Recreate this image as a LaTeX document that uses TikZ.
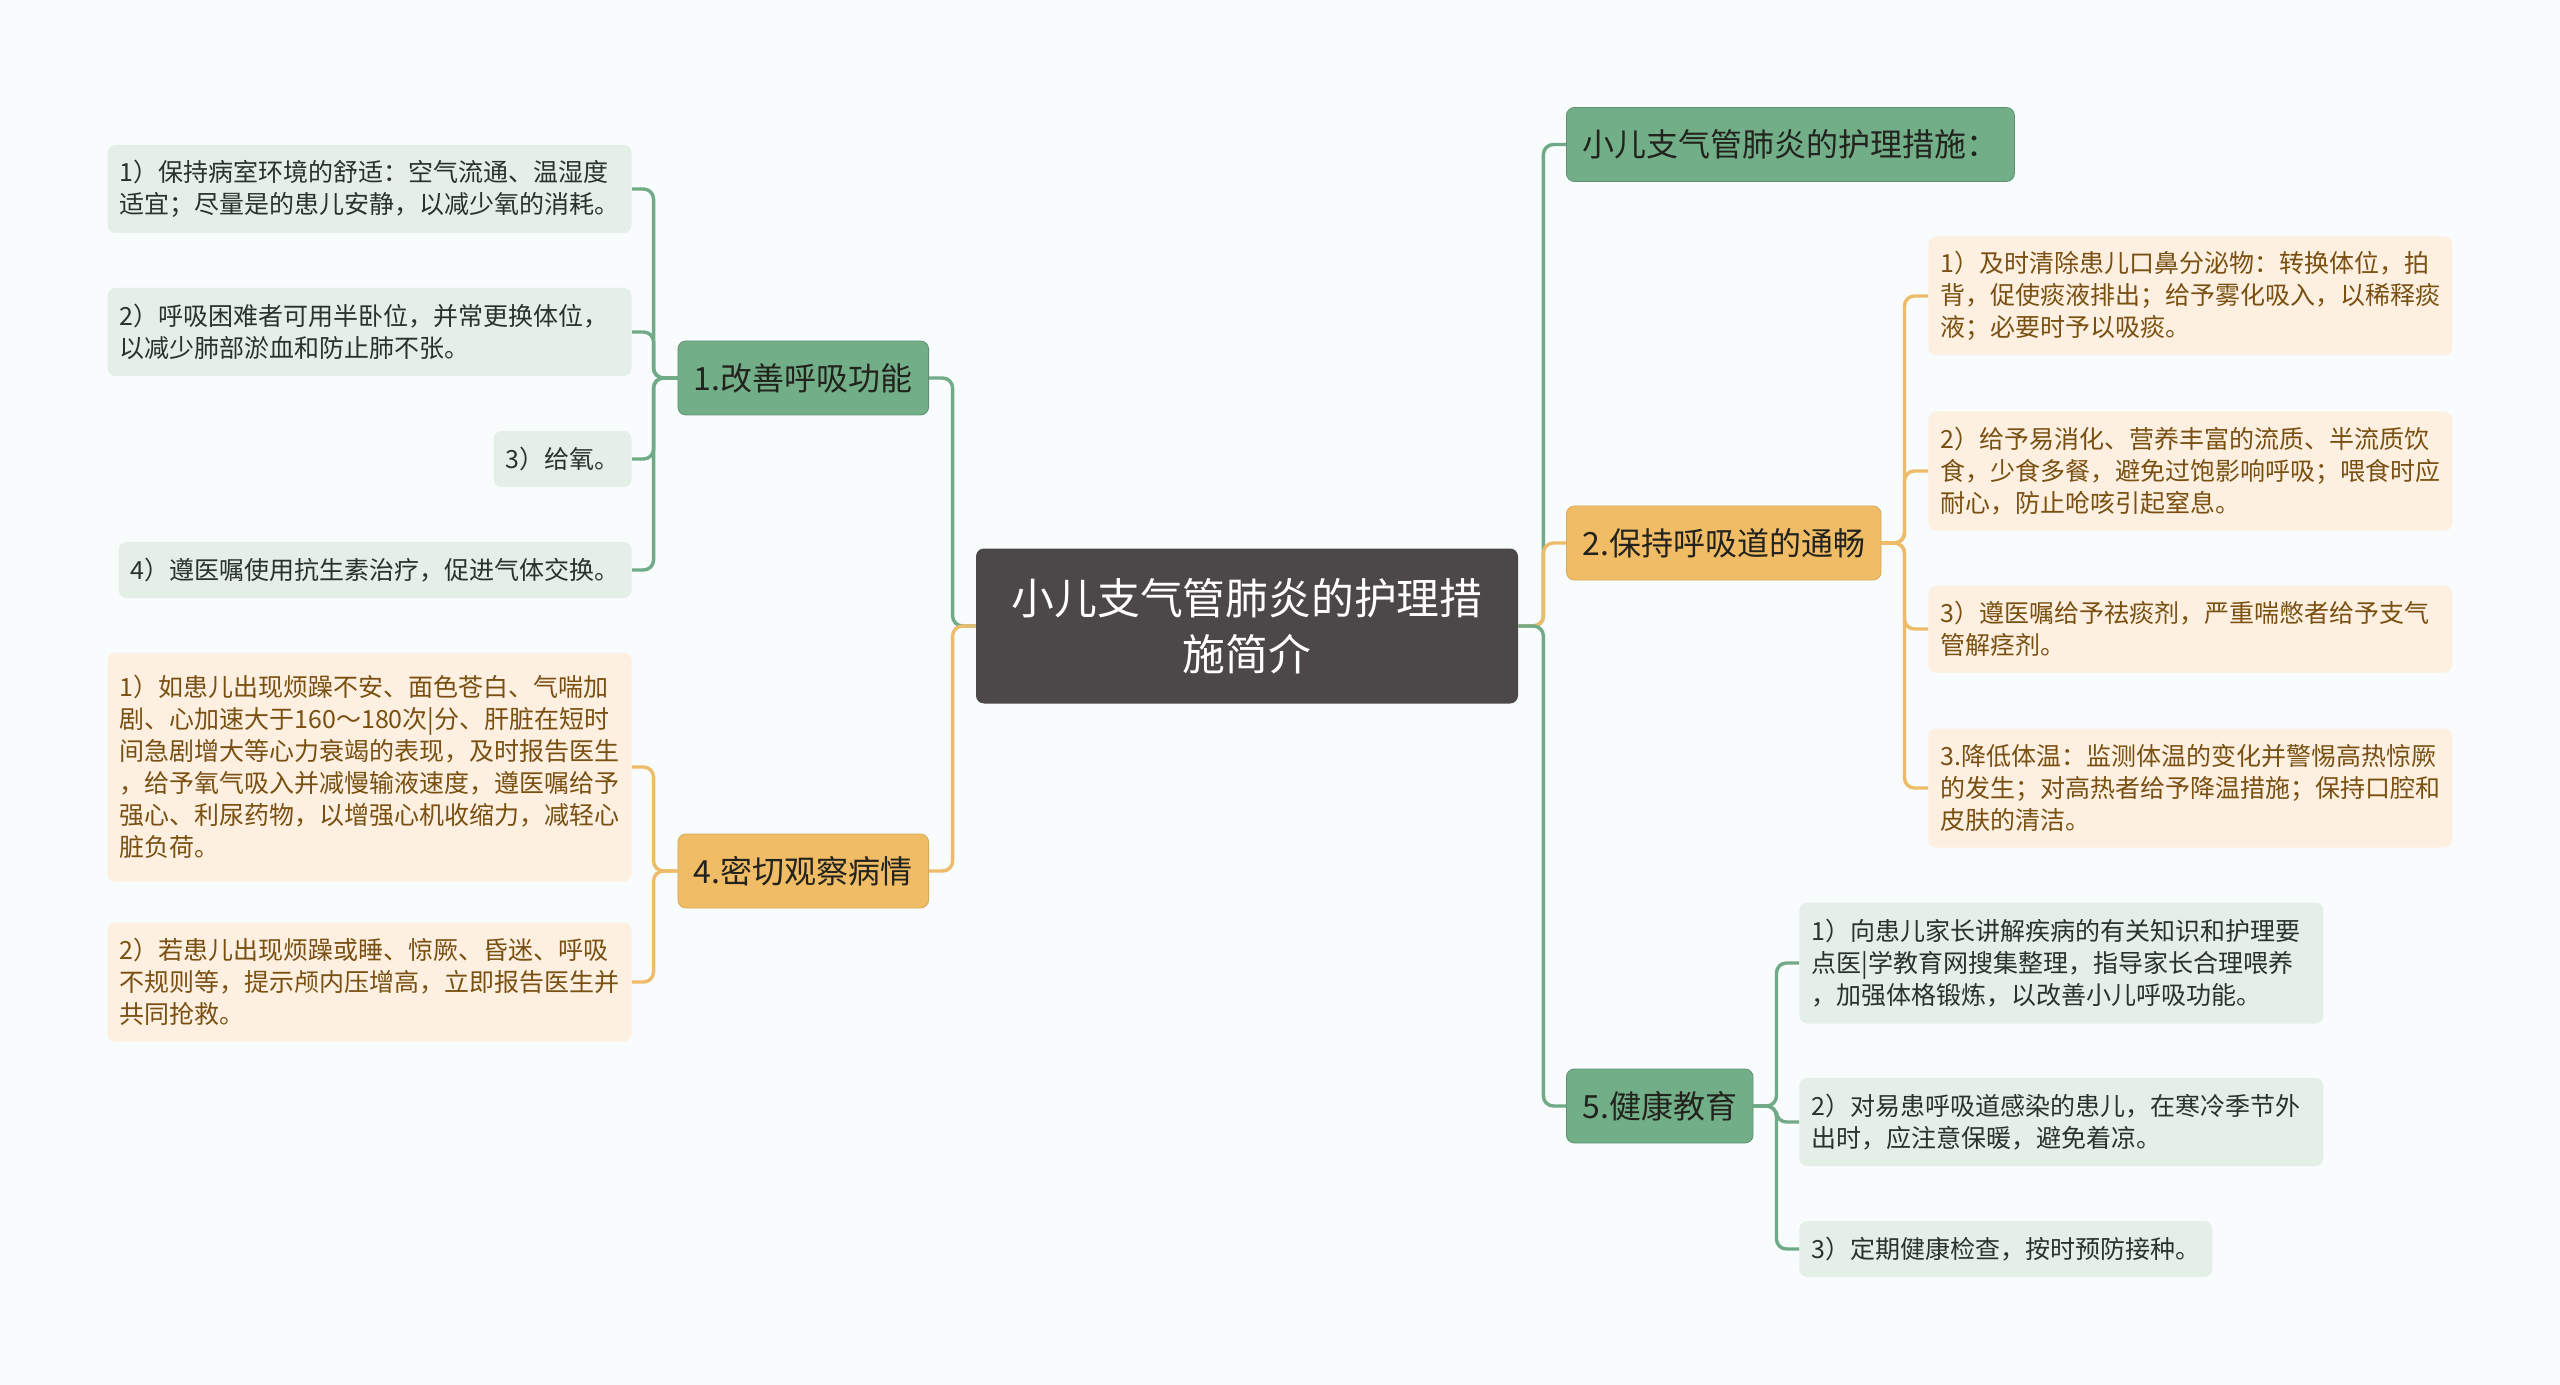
\documentclass[tikz,border=0pt]{standalone}
\usepackage{fontspec}
\setmainfont{Noto Sans CJK SC}
\usepackage{xcolor}
\usetikzlibrary{positioning}
\definecolor{bgcol}{RGB}{248,252,252}
\definecolor{rootgray}{RGB}{76,71,72}
\definecolor{brgreen}{RGB}{114,175,137}
\definecolor{brorange}{RGB}{240,188,101}
\definecolor{lfgreen}{RGB}{228,239,231}
\definecolor{lforange}{RGB}{253,240,225}
\definecolor{lngreen}{RGB}{112,170,134}
\definecolor{lnorange}{RGB}{238,188,105}
\definecolor{txgreen}{RGB}{42,50,44}
\definecolor{txorange}{RGB}{122,80,18}
\definecolor{brtext}{RGB}{35,35,30}

\begin{document}
\begin{tikzpicture}[x=0.5pt,y=-0.5pt,
	root/.style={fill=rootgray, text=white, rounded corners=4pt, align=center, font=\fontsize{21.4pt}{27.8pt}\selectfont, minimum width=271pt, minimum height=77.5pt},
	gbranch/.style={fill=brgreen, draw=lngreen!85!black, line width=0.4pt, text=brtext, rounded corners=4pt, inner xsep=8pt, minimum height=37pt, font=\fontsize{16pt}{19pt}\selectfont},
	obranch/.style={gbranch, fill=brorange, draw=lnorange!90!black},
	gleaf/.style={fill=lfgreen, text=txgreen, rounded corners=4pt, inner xsep=6pt, inner ysep=3pt, align=left, font=\fontsize{12.5pt}{16pt}\selectfont, minimum height=28pt},
	oleaf/.style={gleaf, fill=lforange, text=txorange},
	wide/.style={text width=250pt},
	gline/.style={draw=lngreen, line width=1.7pt, rounded corners=5pt},
	oline/.style={gline, draw=lnorange}]
						% background and size
						\fill[bgcol] (0,0) rectangle (2560,1385);
						\useasboundingbox (0,0) rectangle (2560,1385);
						% centre
						\node[root] (root) at (1247,626) {小儿支气管肺炎的护理措\\施简介};
						% left branches
						\node[gbranch, anchor=east] (breath) at (929,378) {1.改善呼吸功能};
						\node[obranch, anchor=east] (watch) at (929,871) {4.密切观察病情};
						\node[gleaf, wide, anchor=east, minimum height=44pt] (br1) at (632,189) {1）保持病室环境的舒适：空气流通、温湿度\\适宜；尽量是的患儿安静，以减少氧的消耗。};
						\node[gleaf, wide, anchor=east, minimum height=44pt] (br2) at (632,332) {2）呼吸困难者可用半卧位，并常更换体位，\\以减少肺部淤血和防止肺不张。};
						\node[gleaf, anchor=east] (br3) at (632,459) {3）给氧。};
						\node[gleaf, anchor=east] (br4) at (632,570) {4）遵医嘱使用抗生素治疗，促进气体交换。};
						\node[oleaf, wide, anchor=east, minimum height=114.5pt] (wa1) at (632,767) {1）如患儿出现烦躁不安、面色苍白、气喘加\\剧、心加速大于160～180次|分、肝脏在短时\\间急剧增大等心力衰竭的表现，及时报告医生\\，给予氧气吸入并减慢输液速度，遵医嘱给予\\强心、利尿药物，以增强心机收缩力，减轻心\\脏负荷。};
						\node[oleaf, wide, anchor=east, minimum height=59.5pt] (wa2) at (632,982) {2）若患儿出现烦躁或睡、惊厥、昏迷、呼吸\\不规则等，提示颅内压增高，立即报告医生并\\共同抢救。};
						% right branches
						\node[gbranch, anchor=west] (title) at (1566,144.5) {小儿支气管肺炎的护理措施：};
						\node[obranch, anchor=west] (airway) at (1566,543) {2.保持呼吸道的通畅};
						\node[gbranch, anchor=west] (edu) at (1566,1106) {5.健康教育};
						\node[oleaf, wide, anchor=west, minimum height=59.5pt] (ai1) at (1928,296) {1）及时清除患儿口鼻分泌物：转换体位，拍\\背，促使痰液排出；给予雾化吸入，以稀释痰\\液；必要时予以吸痰。};
						\node[oleaf, wide, anchor=west, minimum height=59.5pt] (ai2) at (1928,471) {2）给予易消化、营养丰富的流质、半流质饮\\食，少食多餐，避免过饱影响呼吸；喂食时应\\耐心，防止呛咳引起窒息。};
						\node[oleaf, wide, anchor=west, minimum height=43.5pt] (ai3) at (1928,629) {3）遵医嘱给予祛痰剂，严重喘憋者给予支气\\管解痉剂。};
						\node[oleaf, wide, anchor=west, minimum height=59.5pt] (ai4) at (1928,788) {3.降低体温：监测体温的变化并警惕高热惊厥\\的发生；对高热者给予降温措施；保持口腔和\\皮肤的清洁。};
						\node[gleaf, wide, anchor=west, minimum height=60.5pt] (ed1) at (1799,963) {1）向患儿家长讲解疾病的有关知识和护理要\\点医|学教育网搜集整理，指导家长合理喂养\\，加强体格锻炼，以改善小儿呼吸功能。};
						\node[gleaf, wide, anchor=west, minimum height=44pt] (ed2) at (1799,1122) {2）对易患呼吸道感染的患儿，在寒冷季节外\\出时，应注意保暖，避免着凉。};
						\node[gleaf, anchor=west] (ed3) at (1799,1249) {3）定期健康检查，按时预防接种。};
						% connectors from the centre
						\draw[gline] (root.west) -- ++(-23,0) |- (breath.east);
						\draw[oline] (root.west) -- ++(-23,0) |- (watch.east);
						\draw[gline] (root.east) -- ++(25,0) |- (title.west);
						\draw[oline] (root.east) -- ++(25,0) |- (airway.west);
						\draw[gline] (root.east) -- ++(25,0) |- (edu.west);
						% connectors to the leaves
						\foreach \n in {br1,br2,br3,br4}
							\draw[gline] (breath.west) -- ++(-24,0) |- (\n.east);
						\foreach \n in {wa1,wa2}
							\draw[oline] (watch.west) -- ++(-24,0) |- (\n.east);
						\foreach \n in {ai1,ai2,ai3,ai4}
							\draw[oline] (airway.east) -- ++(23,0) |- (\n.west);
						\foreach \n in {ed1,ed2,ed3}
							\draw[gline] (edu.east) -- ++(23,0) |- (\n.west);
					\end{tikzpicture}
\end{document}
